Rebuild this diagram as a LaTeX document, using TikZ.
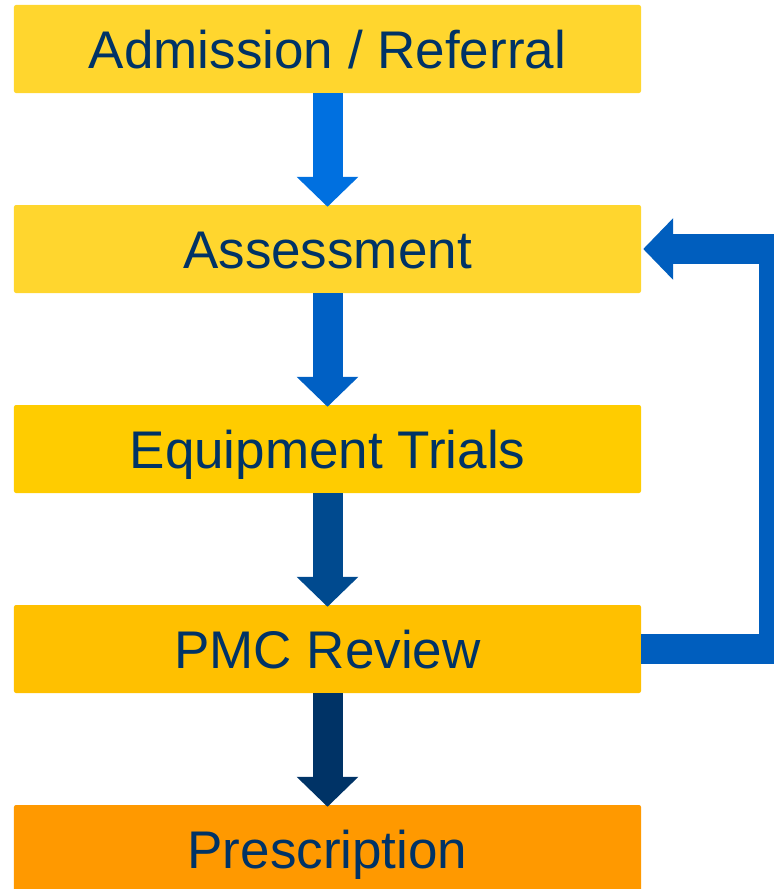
\documentclass[tikz,border=0pt]{standalone}
\usepackage{fontspec}
\setmainfont{Liberation Sans}
\usetikzlibrary{arrows.meta,calc}
\definecolor{boxA}{RGB}{255,214,46}
\definecolor{boxB}{RGB}{255,204,0}
\definecolor{boxC}{RGB}{255,192,0}
\definecolor{boxD}{RGB}{255,153,0}
\definecolor{txt}{RGB}{0,51,102}
\definecolor{arA}{RGB}{0,112,224}
\definecolor{arB}{RGB}{0,96,196}
\definecolor{arC}{RGB}{0,74,143}
\definecolor{arD}{RGB}{0,51,102}
\definecolor{arF}{RGB}{0,94,190}
\tikzset{
  stepbox/.style={minimum width=627bp, minimum height=88bp, rounded corners=2bp,
    inner sep=0pt, text=txt, text height=38bp, text depth=0pt,
    font=\fontsize{53bp}{60bp}\selectfont},
  blockarrow/.style={line width=30bp, -{Triangle[width=60bp,length=30bp]}},
}
\begin{document}
\begin{tikzpicture}[x=1bp,y=-1bp]
\useasboundingbox (0,0) rectangle (774,889);
\node[stepbox, fill=boxA] (adm) at (327.5,49) {Admission / Referral};
\node[stepbox, fill=boxA] (ass) at (327.5,249) {Assessment};
\node[stepbox, fill=boxB] (equ) at (327.5,449) {Equipment Trials};
\node[stepbox, fill=boxC] (pmc) at (327.5,649) {PMC Review};
\node[stepbox, fill=boxD] (pre) at (327.5,849) {Prescription};
\draw[blockarrow, arA] (adm.south) -- ($(ass.north)+(0,2)$);
\draw[blockarrow, arB] (ass.south) -- ($(equ.north)+(0,2)$);
\draw[blockarrow, arC] (equ.south) -- ($(pmc.north)+(0,2)$);
\draw[blockarrow, arD] (pmc.south) -- ($(pre.north)+(0,2)$);
\coordinate (fbr) at (774,649);
\draw[blockarrow, arF, line join=miter] (pmc.east) -- (fbr) |- ($(ass.east)+(2,0)$);
\end{tikzpicture}
\end{document}
